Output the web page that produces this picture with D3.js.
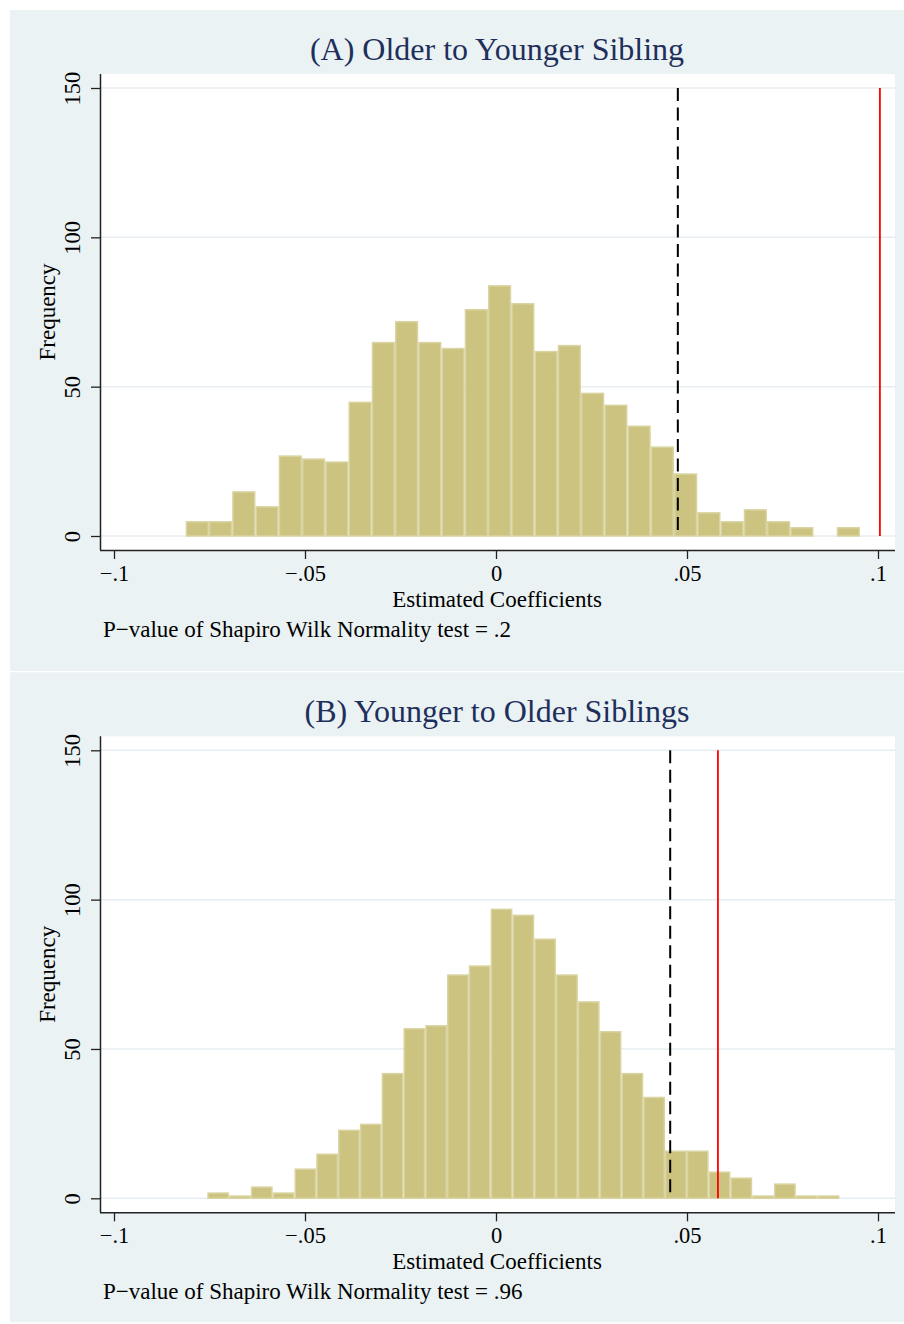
<!DOCTYPE html>
<html>
<head>
<meta charset="utf-8">
<script src="https://cdn.jsdelivr.net/npm/d3@7"></script>
<style>
  html, body { margin: 0; padding: 0; background: #ffffff; }
  svg { display: block; }
  text { font-family: "Liberation Serif", "Times New Roman", serif; }
</style>
</head>
<body>
<script>
// Histogram bin definitions and frequencies (1000 replications each)
const titles = ["(A) Older to Younger Sibling", "(B) Younger to Older Siblings"];
const notes = ["P\u2212value of Shapiro Wilk Normality test = .2",
               "P\u2212value of Shapiro Wilk Normality test = .96"];

const binStartA = -0.08123;
const binWidthA = 0.006087;
const countsA = [5, 5, 15, 10, 27, 26, 25, 45, 65, 72, 65, 63, 76, 84, 78,
                 62, 64, 48, 44, 37, 30, 21, 8, 5, 9, 5, 3, 0, 3];

const binStartB = -0.07558;
const binWidthB = 0.005706;
const countsB = [2, 1, 4, 2, 10, 15, 23, 25, 42, 57, 58, 75, 78, 97, 95,
                 87, 75, 66, 56, 42, 34, 16, 16, 9, 7, 1, 5, 1, 1];

// Reference lines: dashed black and solid red
const dashedLine = [0.0476, 0.0456];
const redLine = [0.1005, 0.0581];

const xTicks = [-0.1, -0.05, 0, 0.05, 0.1];
const xTickLabels = ["\u2212.1", "\u2212.05", "0", ".05", ".1"];
const yTicks = [0, 50, 100, 150];

const W = 904, H = 1324;
const svg = d3.select("body").append("svg").attr("width", W).attr("height", H);

const panelBg = "#eaf2f3";
const barFill = "#cbc37f";
const barEdge = "#d9d4a1";
const gridCol = "#e6eef1";
const titleCol = "#1f2f5c";

const x = d3.scaleLinear().domain([-0.1, 0.1]).range([114, 878]);

function drawPanel(g, opts) {
  const { height, title, note, start, width, counts, dash, red } = opts;
  const y = d3.scaleLinear().domain([0, 150]).range([536, 88]);

  // Graph region background
  g.append("rect").attr("x", 10).attr("y", 10).attr("width", 894)
    .attr("height", height).attr("fill", panelBg);

  // Plot region
  g.append("rect").attr("x", 100).attr("y", 74).attr("width", 795)
    .attr("height", 476).attr("fill", "#ffffff");

  // Horizontal grid lines
  g.selectAll("line.grid").data(yTicks).join("line")
    .attr("class", "grid")
    .attr("x1", 100).attr("x2", 895)
    .attr("y1", d => y(d)).attr("y2", d => y(d))
    .attr("stroke", gridCol).attr("stroke-width", 1.5);

  // Bars
  const bins = counts.map((c, i) => ({ x0: start + i * width, x1: start + (i + 1) * width, n: c }))
    .filter(b => b.n > 0);
  g.selectAll("rect.bar").data(bins).join("rect")
    .attr("class", "bar")
    .attr("x", d => x(d.x0) + 0.75)
    .attr("width", d => x(d.x1) - x(d.x0) - 1.5)
    .attr("y", d => y(d.n) + 0.75)
    .attr("height", d => Math.max(0, y(0) - y(d.n) - 0.75))
    .attr("fill", barFill)
    .attr("stroke", barEdge)
    .attr("stroke-width", 1.5);

  // Reference lines
  g.append("line")
    .attr("x1", x(dash)).attr("x2", x(dash))
    .attr("y1", y(150)).attr("y2", y(0))
    .attr("stroke", "#000").attr("stroke-width", 2)
    .attr("stroke-dasharray", "13,6.5");
  g.append("line")
    .attr("x1", x(red)).attr("x2", x(red))
    .attr("y1", y(150)).attr("y2", y(0))
    .attr("stroke", "#ff0000").attr("stroke-width", 1.8);

  // Axes
  const xAxis = d3.axisBottom(x).tickValues(xTicks)
    .tickFormat((d, i) => xTickLabels[i]).tickSize(9).tickPadding(5);
  const gx = g.append("g").attr("transform", "translate(0,550)").call(xAxis);
  gx.select(".domain").attr("d", "M100,0.5H895").attr("stroke", "#222").attr("stroke-width", 1.5);
  gx.selectAll(".tick line").attr("stroke", "#222").attr("stroke-width", 1.3);
  gx.selectAll(".tick text").attr("font-size", 22.5).attr("fill", "#000")
    .attr("font-family", "Liberation Serif, serif")
    .attr("y", null).attr("dy", null)
    .attr("transform", "translate(0,31)");

  const yAxis = d3.axisLeft(y).tickValues(yTicks).tickSize(9).tickFormat(d3.format("d"));
  const gy = g.append("g").attr("transform", "translate(100,0)").call(yAxis);
  gy.select(".domain").attr("d", "M0.5,74V550").attr("stroke", "#222").attr("stroke-width", 1.5);
  gy.selectAll(".tick line").attr("stroke", "#222").attr("stroke-width", 1.3);
  gy.selectAll(".tick text")
    .attr("font-size", 22.5).attr("fill", "#000")
    .attr("font-family", "Liberation Serif, serif")
    .attr("x", null).attr("dy", null)
    .attr("text-anchor", "middle")
    .attr("transform", "translate(-20,0) rotate(-90)");

  // Titles and labels
  g.append("text").attr("x", 497).attr("y", 60)
    .attr("text-anchor", "middle").attr("font-size", 32).attr("fill", titleCol)
    .text(title);
  g.append("text").attr("x", 497).attr("y", 607)
    .attr("text-anchor", "middle").attr("font-size", 23).attr("fill", "#000")
    .text("Estimated Coefficients");
  g.append("text").attr("transform", "translate(55,312) rotate(-90)")
    .attr("text-anchor", "middle").attr("font-size", 23).attr("fill", "#000")
    .text("Frequency");
  g.append("text").attr("x", 103).attr("y", 637)
    .attr("font-size", 23).attr("fill", "#000")
    .text(note);
}

const gA = svg.append("g");
drawPanel(gA, { height: 661, title: titles[0], note: notes[0],
  start: binStartA, width: binWidthA, counts: countsA, dash: dashedLine[0], red: redLine[0] });

const gB = svg.append("g").attr("transform", "translate(0,662.3)");
drawPanel(gB, { height: 650, title: titles[1], note: notes[1],
  start: binStartB, width: binWidthB, counts: countsB, dash: dashedLine[1], red: redLine[1] });
</script>
</body>
</html>
